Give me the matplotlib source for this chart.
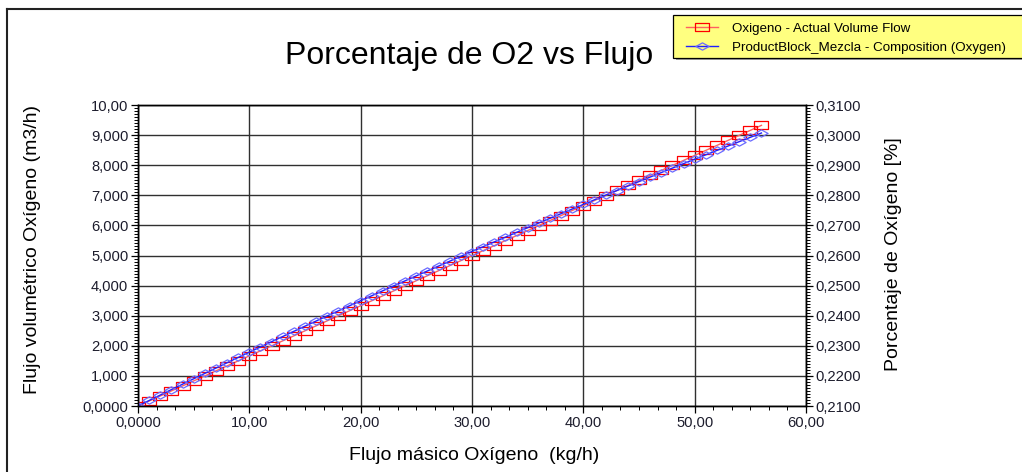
import matplotlib
matplotlib.use('Agg')
import matplotlib.pyplot as plt
from matplotlib.path import Path
from matplotlib.lines import Line2D
from matplotlib.patches import Rectangle
from matplotlib.ticker import MultipleLocator
import numpy as np

plt.rcParams['font.family'] = ['Liberation Sans', 'DejaVu Sans']

# ---------------------------------------------------------------- data
flujo_masico = [0, 1, 2, 3, 4, 5, 6, 7, 8, 9,
                10, 11, 12, 13, 14, 15, 16, 17, 18, 19,
                20, 21, 22, 23, 24, 25, 26, 27, 28, 29,
                30, 31, 32, 33, 34, 35, 36, 37, 38, 39,
                40, 41, 42, 43, 44, 45, 46, 47, 48, 49,
                50, 51, 52, 53, 54, 55, 56]

flujo_volumetrico = [0.000, 0.167, 0.333, 0.500, 0.666, 0.833, 0.999, 1.166, 1.332, 1.499,
                     1.665, 1.832, 1.998, 2.165, 2.331, 2.498, 2.664, 2.831, 2.997, 3.164,
                     3.330, 3.497, 3.663, 3.830, 3.996, 4.163, 4.329, 4.496, 4.662, 4.829,
                     4.995, 5.162, 5.328, 5.495, 5.661, 5.828, 5.994, 6.161, 6.327, 6.494,
                     6.660, 6.827, 6.993, 7.160, 7.326, 7.493, 7.659, 7.826, 7.992, 8.159,
                     8.325, 8.492, 8.658, 8.825, 8.991, 9.158, 9.324]

composicion_o2 = [0.21000, 0.21183, 0.21364, 0.21545, 0.21725, 0.21904, 0.22083, 0.22260, 0.22437, 0.22613,
                  0.22788, 0.22963, 0.23136, 0.23309, 0.23481, 0.23652, 0.23823, 0.23993, 0.24162, 0.24330,
                  0.24497, 0.24664, 0.24830, 0.24995, 0.25160, 0.25324, 0.25487, 0.25649, 0.25811, 0.25972,
                  0.26132, 0.26292, 0.26451, 0.26609, 0.26767, 0.26924, 0.27080, 0.27235, 0.27390, 0.27544,
                  0.27698, 0.27851, 0.28003, 0.28155, 0.28306, 0.28456, 0.28606, 0.28755, 0.28904, 0.29052,
                  0.29199, 0.29345, 0.29491, 0.29637, 0.29782, 0.29926, 0.30070]

xticks = [0, 10, 20, 30, 40, 50, 60]
xticklabels = ['0,0000', '10,00', '20,00', '30,00', '40,00', '50,00', '60,00']
yticks = [0, 1, 2, 3, 4, 5, 6, 7, 8, 9, 10]
yticklabels = ['0,0000', '1,000', '2,000', '3,000', '4,000', '5,000',
               '6,000', '7,000', '8,000', '9,000', '10,00']
y2ticks = [0.21, 0.22, 0.23, 0.24, 0.25, 0.26, 0.27, 0.28, 0.29, 0.30, 0.31]
y2ticklabels = ['0,2100', '0,2200', '0,2300', '0,2400', '0,2500', '0,2600',
                '0,2700', '0,2800', '0,2900', '0,3000', '0,3100']

# ---------------------------------------------------------------- markers
rect = Path([(-1, -0.6), (1, -0.6), (1, 0.6), (-1, 0.6), (-1, -0.6)],
            [Path.MOVETO, Path.LINETO, Path.LINETO, Path.LINETO, Path.CLOSEPOLY])
diam = Path([(-1, 0), (0, 0.55), (1, 0), (0, -0.55), (-1, 0)],
            [Path.MOVETO, Path.LINETO, Path.LINETO, Path.LINETO, Path.CLOSEPOLY])

W, H = 1022, 472
fig = plt.figure(figsize=(W/100, H/100), dpi=100)
ax = fig.add_axes([138/W, 1-406/H, (806-138)/W, (406-105)/H])
ax2 = ax.twinx()

l1, = ax.plot(flujo_masico, flujo_volumetrico, color='#ff6060', lw=1.0,
              marker=rect, ms=10, mfc='none', mec='#ff0000', mew=0.9,
              label='Oxigeno - Actual Volume Flow')
l2, = ax2.plot(flujo_masico, composicion_o2, color='#2020ff', lw=1.0,
               marker=diam, ms=9.5, mfc='none', mec='#6a6aff', mew=0.9,
               label='ProductBlock_Mezcla - Composition (Oxygen)')

ax.set_xlim(0, 60)
ax.set_ylim(0, 10)
ax2.set_ylim(0.21, 0.31)

ax.set_xticks(xticks)
ax.set_xticklabels(xticklabels)
ax.set_yticks(yticks)
ax.set_yticklabels(yticklabels)
ax2.set_yticks(y2ticks)
ax2.set_yticklabels(y2ticklabels)
ax.xaxis.set_minor_locator(MultipleLocator(10/6))
ax.yaxis.set_minor_locator(MultipleLocator(0.1))
ax2.yaxis.set_minor_locator(MultipleLocator(0.001))

tc = '#1c1c2c'
for a in (ax, ax2):
    a.tick_params(which='major', length=5, width=0.9, color='k', labelsize=10.6,
                  labelcolor=tc, pad=2)
    a.tick_params(which='minor', length=3, width=0.7, color='k')
    for s in a.spines.values():
        s.set_color('k')
        s.set_linewidth(1.0)

ax.grid(True, which='major', color='#303030', lw=1.0)
ax.set_axisbelow(True)

# ---------------------------------------------------------------- texts
fig.text(469/W, 1-56/H, 'Porcentaje de O2 vs Flujo', fontsize=23,
         ha='center', va='center', color='k')
fig.text(33/W, 1-250/H, 'Flujo volumétrico Oxígeno (m3/h)', fontsize=14,
         rotation=90, ha='center', va='center', color='k')
fig.text(893/W, 1-254/H, 'Porcentaje de Oxígeno [%]', fontsize=14,
         rotation=90, ha='center', va='center', color='k')
fig.text(474/W, 1-455/H, 'Flujo másico Oxígeno  (kg/h)', fontsize=14,
         ha='center', va='center', color='k')

# frame round the chart
fig.add_artist(Line2D([7/W, 7/W], [0, 1-9/H], color='#222222', lw=1.5))
fig.add_artist(Line2D([7/W, 1], [1-9/H, 1-9/H], color='#222222', lw=1.5))

# legend box (runs off the right edge), with its shadow
fig.add_artist(Rectangle((676/W, 1-60/H), 360/W, 44/H, transform=fig.transFigure,
                         facecolor='#a0a0a0', edgecolor='none', zorder=4))
fig.add_artist(Rectangle((673/W, 1-58/H), 360/W, 43/H, transform=fig.transFigure,
                         facecolor='#ffff80', edgecolor='k', lw=0.9, zorder=5))
leg = fig.legend(handles=[l1, l2], loc='upper left',
                 bbox_to_anchor=(683/W, 1-20/H), fontsize=9.6,
                 frameon=False, borderpad=0.2, borderaxespad=0,
                 handlelength=2.4, handletextpad=1.1, labelspacing=0.5)
leg.set_zorder(6)

fig.savefig('out.png', dpi=100)
